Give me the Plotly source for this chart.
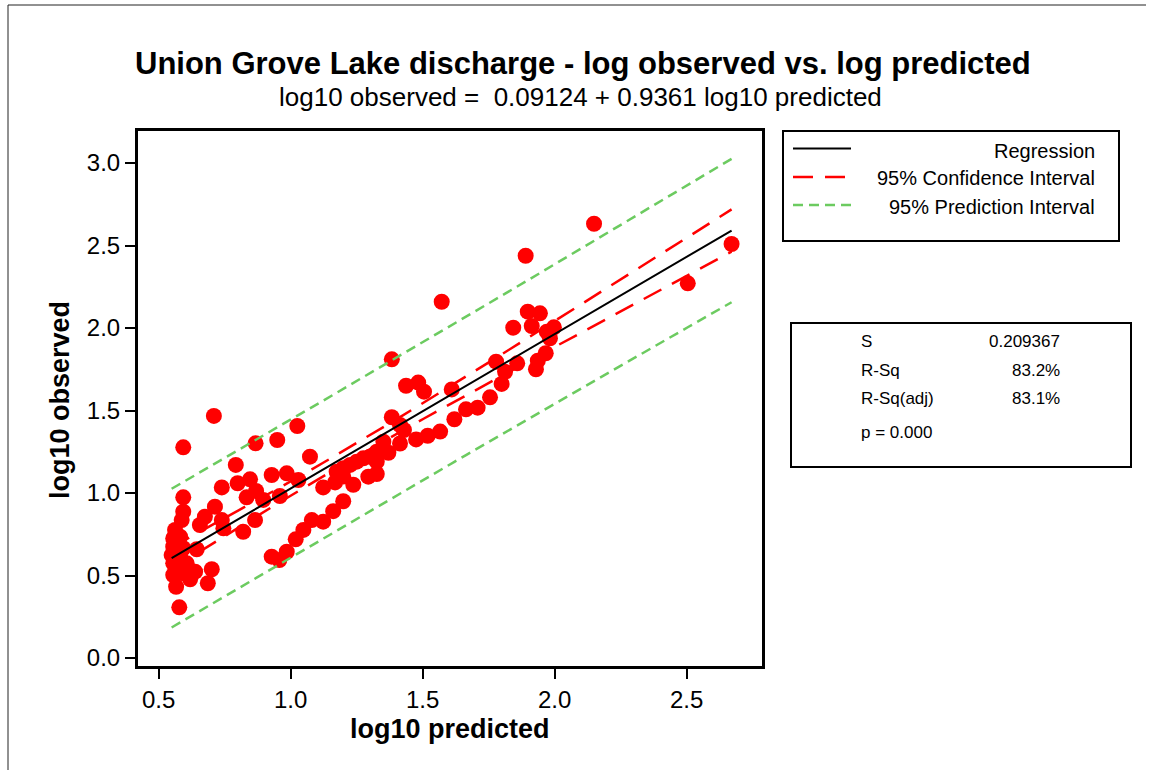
import numpy as np
import plotly.graph_objects as go

# ---------------- data ----------------
log10_predicted = [
    0.578, 0.566, 0.555, 0.593, 0.638, 0.619, 0.555, 0.606, 0.549, 0.581,
    0.555, 0.593, 0.644, 0.555, 0.581, 0.562, 0.587, 0.593, 0.593, 0.701,
    0.686, 0.593, 0.709, 0.656, 0.675, 0.713, 0.739, 0.745, 0.820, 0.865,
    0.739, 0.792, 0.799, 0.846, 0.833, 0.869, 0.896, 0.928, 0.959, 0.985,
    1.029, 0.867, 0.949, 1.025, 1.073,
    0.928, 0.957, 0.985, 1.019, 1.048, 1.080, 1.123, 1.161, 1.199, 1.237,
    1.123, 1.168, 1.199, 1.174, 1.199, 1.225, 1.250, 1.275, 1.300, 1.326,
    1.326, 1.294, 1.326, 1.370, 1.351, 1.414, 1.475, 1.519, 1.566, 1.429,
    1.414, 1.383, 1.383, 1.437, 1.483, 1.505, 1.572, 1.610, 1.620, 1.664,
    1.708, 1.755, 1.799, 1.812, 1.778, 1.858, 1.929, 1.936, 1.966, 1.982,
    1.970, 1.997, 1.913, 1.843, 1.898, 1.944, 1.890, 2.149, 2.504, 2.670,
]
log10_observed = [
    0.307, 0.432, 0.503, 0.513, 0.523, 0.477, 0.574, 0.574, 0.624, 0.614,
    0.675, 0.665, 0.659, 0.725, 0.735, 0.776, 0.836, 0.887, 0.974, 0.538,
    0.453, 1.277, 1.467, 0.806, 0.856, 0.917, 0.836, 0.786, 0.765, 0.836,
    1.034, 1.170, 1.059, 1.083, 0.974, 1.012, 0.958, 1.109, 0.982, 1.119,
    1.079, 1.301, 1.321, 1.406, 1.220,
    0.614, 0.594, 0.644, 0.719, 0.776, 0.836, 0.826, 0.890, 0.950, 1.050,
    1.034, 1.064, 1.100, 1.129, 1.150, 1.170, 1.190, 1.210, 1.220, 1.190,
    1.250, 1.099, 1.115, 1.244, 1.311, 1.300, 1.325, 1.347, 1.372, 1.382,
    1.412, 1.459, 1.810, 1.650, 1.669, 1.614, 2.159, 1.628, 1.447, 1.507,
    1.517, 1.580, 1.661, 1.735, 1.796, 1.786, 1.750, 1.802, 1.847, 1.938,
    1.978, 2.004, 2.012, 2.002, 2.099, 2.089, 2.438, 2.632, 2.271, 2.509,
]

# regression summary printed on the chart
INTERCEPT = 0.09124
SLOPE = 0.9361
S_VALUE = 0.209367
T_CRIT = 1.983

x_ticks = [0.5, 1.0, 1.5, 2.0, 2.5]
y_ticks = [0.0, 0.5, 1.0, 1.5, 2.0, 2.5, 3.0]

title_text = "Union Grove Lake discharge - log observed vs. log predicted"
subtitle_text = "log10 observed =  0.09124 + 0.9361 log10 predicted"
legend_labels = ["Regression", "95% Confidence Interval", "95% Prediction Interval"]
stats_labels = ["S", "R-Sq", "R-Sq(adj)"]
stats_values = ["0.209367", "83.2%", "83.1%"]
p_text = "p = 0.000"

# ---------------- fitted lines ----------------
xp = np.array(log10_predicted)
n = len(xp)
xbar = xp.mean()
sxx = ((xp - xbar) ** 2).sum()
xs = np.sort(np.unique(xp))
fit = INTERCEPT + SLOPE * xs
se_mean = S_VALUE * np.sqrt(1.0 / n + (xs - xbar) ** 2 / sxx)
se_pred = S_VALUE * np.sqrt(1.0 + 1.0 / n + (xs - xbar) ** 2 / sxx)
ci_lo, ci_hi = fit - T_CRIT * se_mean, fit + T_CRIT * se_mean
pi_lo, pi_hi = fit - T_CRIT * se_pred, fit + T_CRIT * se_pred

# ---------------- layout geometry ----------------
FW, FH = 1151, 770
L, R, T, B = 138, 762, 131, 666
PW, PH = R - L, B - T


def px(x):
    return (x - L) / PW


def py(y):
    return (B - y) / PH


FONT = "Liberation Sans, Arial, sans-serif"
RED = "#FF0000"
GREEN = "#6CCB60"
CI_DASH = "20px,12px"
PI_DASH = "10px,6px"

fig = go.Figure()
fig.add_trace(go.Scatter(x=log10_predicted, y=log10_observed, mode="markers",
                         marker=dict(size=16, color=RED, line=dict(width=0)),
                         showlegend=False, hoverinfo="x+y"))
fig.add_trace(go.Scatter(x=xs, y=pi_hi, mode="lines", line=dict(color=GREEN, width=2.5, dash=PI_DASH), showlegend=False))
fig.add_trace(go.Scatter(x=xs, y=pi_lo, mode="lines", line=dict(color=GREEN, width=2.5, dash=PI_DASH), showlegend=False))
fig.add_trace(go.Scatter(x=xs, y=ci_hi, mode="lines", line=dict(color=RED, width=2.5, dash=CI_DASH), showlegend=False))
fig.add_trace(go.Scatter(x=xs, y=ci_lo, mode="lines", line=dict(color=RED, width=2.5, dash=CI_DASH), showlegend=False))
fig.add_trace(go.Scatter(x=xs, y=fit, mode="lines", line=dict(color="black", width=2), showlegend=False))

x_lo = 0.5 + (L - 158.7) / 264.0
x_hi = 0.5 + (R - 158.7) / 264.0
y_lo = (658.0 - B) / 165.0
y_hi = (658.0 - T) / 165.0

axis_common = dict(showline=True, linecolor="black", linewidth=3, mirror=True,
                   ticks="outside", ticklen=10, tickwidth=2, tickcolor="black",
                   showgrid=False, zeroline=False,
                   tickfont=dict(family=FONT, size=24, color="black"))
fig.update_xaxes(range=[x_lo, x_hi], tickvals=x_ticks, ticktext=[f"{v:.1f}" for v in x_ticks], **axis_common)
fig.update_yaxes(range=[y_lo, y_hi], tickvals=y_ticks, ticktext=[f"{v:.1f}" for v in y_ticks], **axis_common)

ann = []


def text(x, y, s, size, bold=False, xanchor="center", angle=0):
    ann.append(dict(x=px(x), y=py(y), xref="paper", yref="paper", text=f"<b>{s}</b>" if bold else s,
                    showarrow=False, xanchor=xanchor, yanchor="middle", textangle=angle,
                    font=dict(family=FONT, size=size, color="black")))


text(583, 63, title_text, 31, bold=True)
text(580, 97, subtitle_text, 26)
text(450, 729, "log10 predicted", 27, bold=True)
text(60, 400, "log10 observed", 27, bold=True, angle=-90)

leg_y = [150.5, 178.5, 206.5]
for lab, yy in zip(legend_labels, leg_y):
    text(1097, yy, lab, 20, xanchor="right")

st_y = [341.5, 370.5, 398.5]
for lab, val, yy in zip(stats_labels, stats_values, st_y):
    text(859, yy, lab, 17, xanchor="left")
    text(1062, yy, val, 17, xanchor="right")
text(859, 432.5, p_text, 17, xanchor="left")

shapes = []


def line(x0, y0, x1, y1, color="black", width=1, dash="solid"):
    shapes.append(dict(type="line", xref="paper", yref="paper", x0=px(x0), y0=py(y0), x1=px(x1), y1=py(y1),
                       line=dict(color=color, width=width, dash=dash)))


def rect(x0, y0, x1, y1, width=2):
    shapes.append(dict(type="rect", xref="paper", yref="paper", x0=px(x0), y0=py(y0), x1=px(x1), y1=py(y1),
                       line=dict(color="black", width=width), fillcolor="rgba(0,0,0,0)"))


rect(783, 131, 1119, 241)
rect(791, 323, 1131, 467)
line(793, 148.5, 851, 148.5, "black", 2)
line(793, 177, 851, 177, RED, 2.5, CI_DASH)
line(793, 205, 851, 205, GREEN, 2.5, PI_DASH)
# outer image frame
line(8, 5, 1146, 5, "#222222", 1)
line(8, 5, 8, 770, "#222222", 1)

fig.update_layout(width=FW, height=FH, autosize=False,
                  margin=dict(l=L, r=FW - R, t=T, b=FH - B, pad=0, autoexpand=False),
                  plot_bgcolor="white", paper_bgcolor="white",
                  annotations=ann, shapes=shapes, showlegend=False)

fig.write_html("out.html")
